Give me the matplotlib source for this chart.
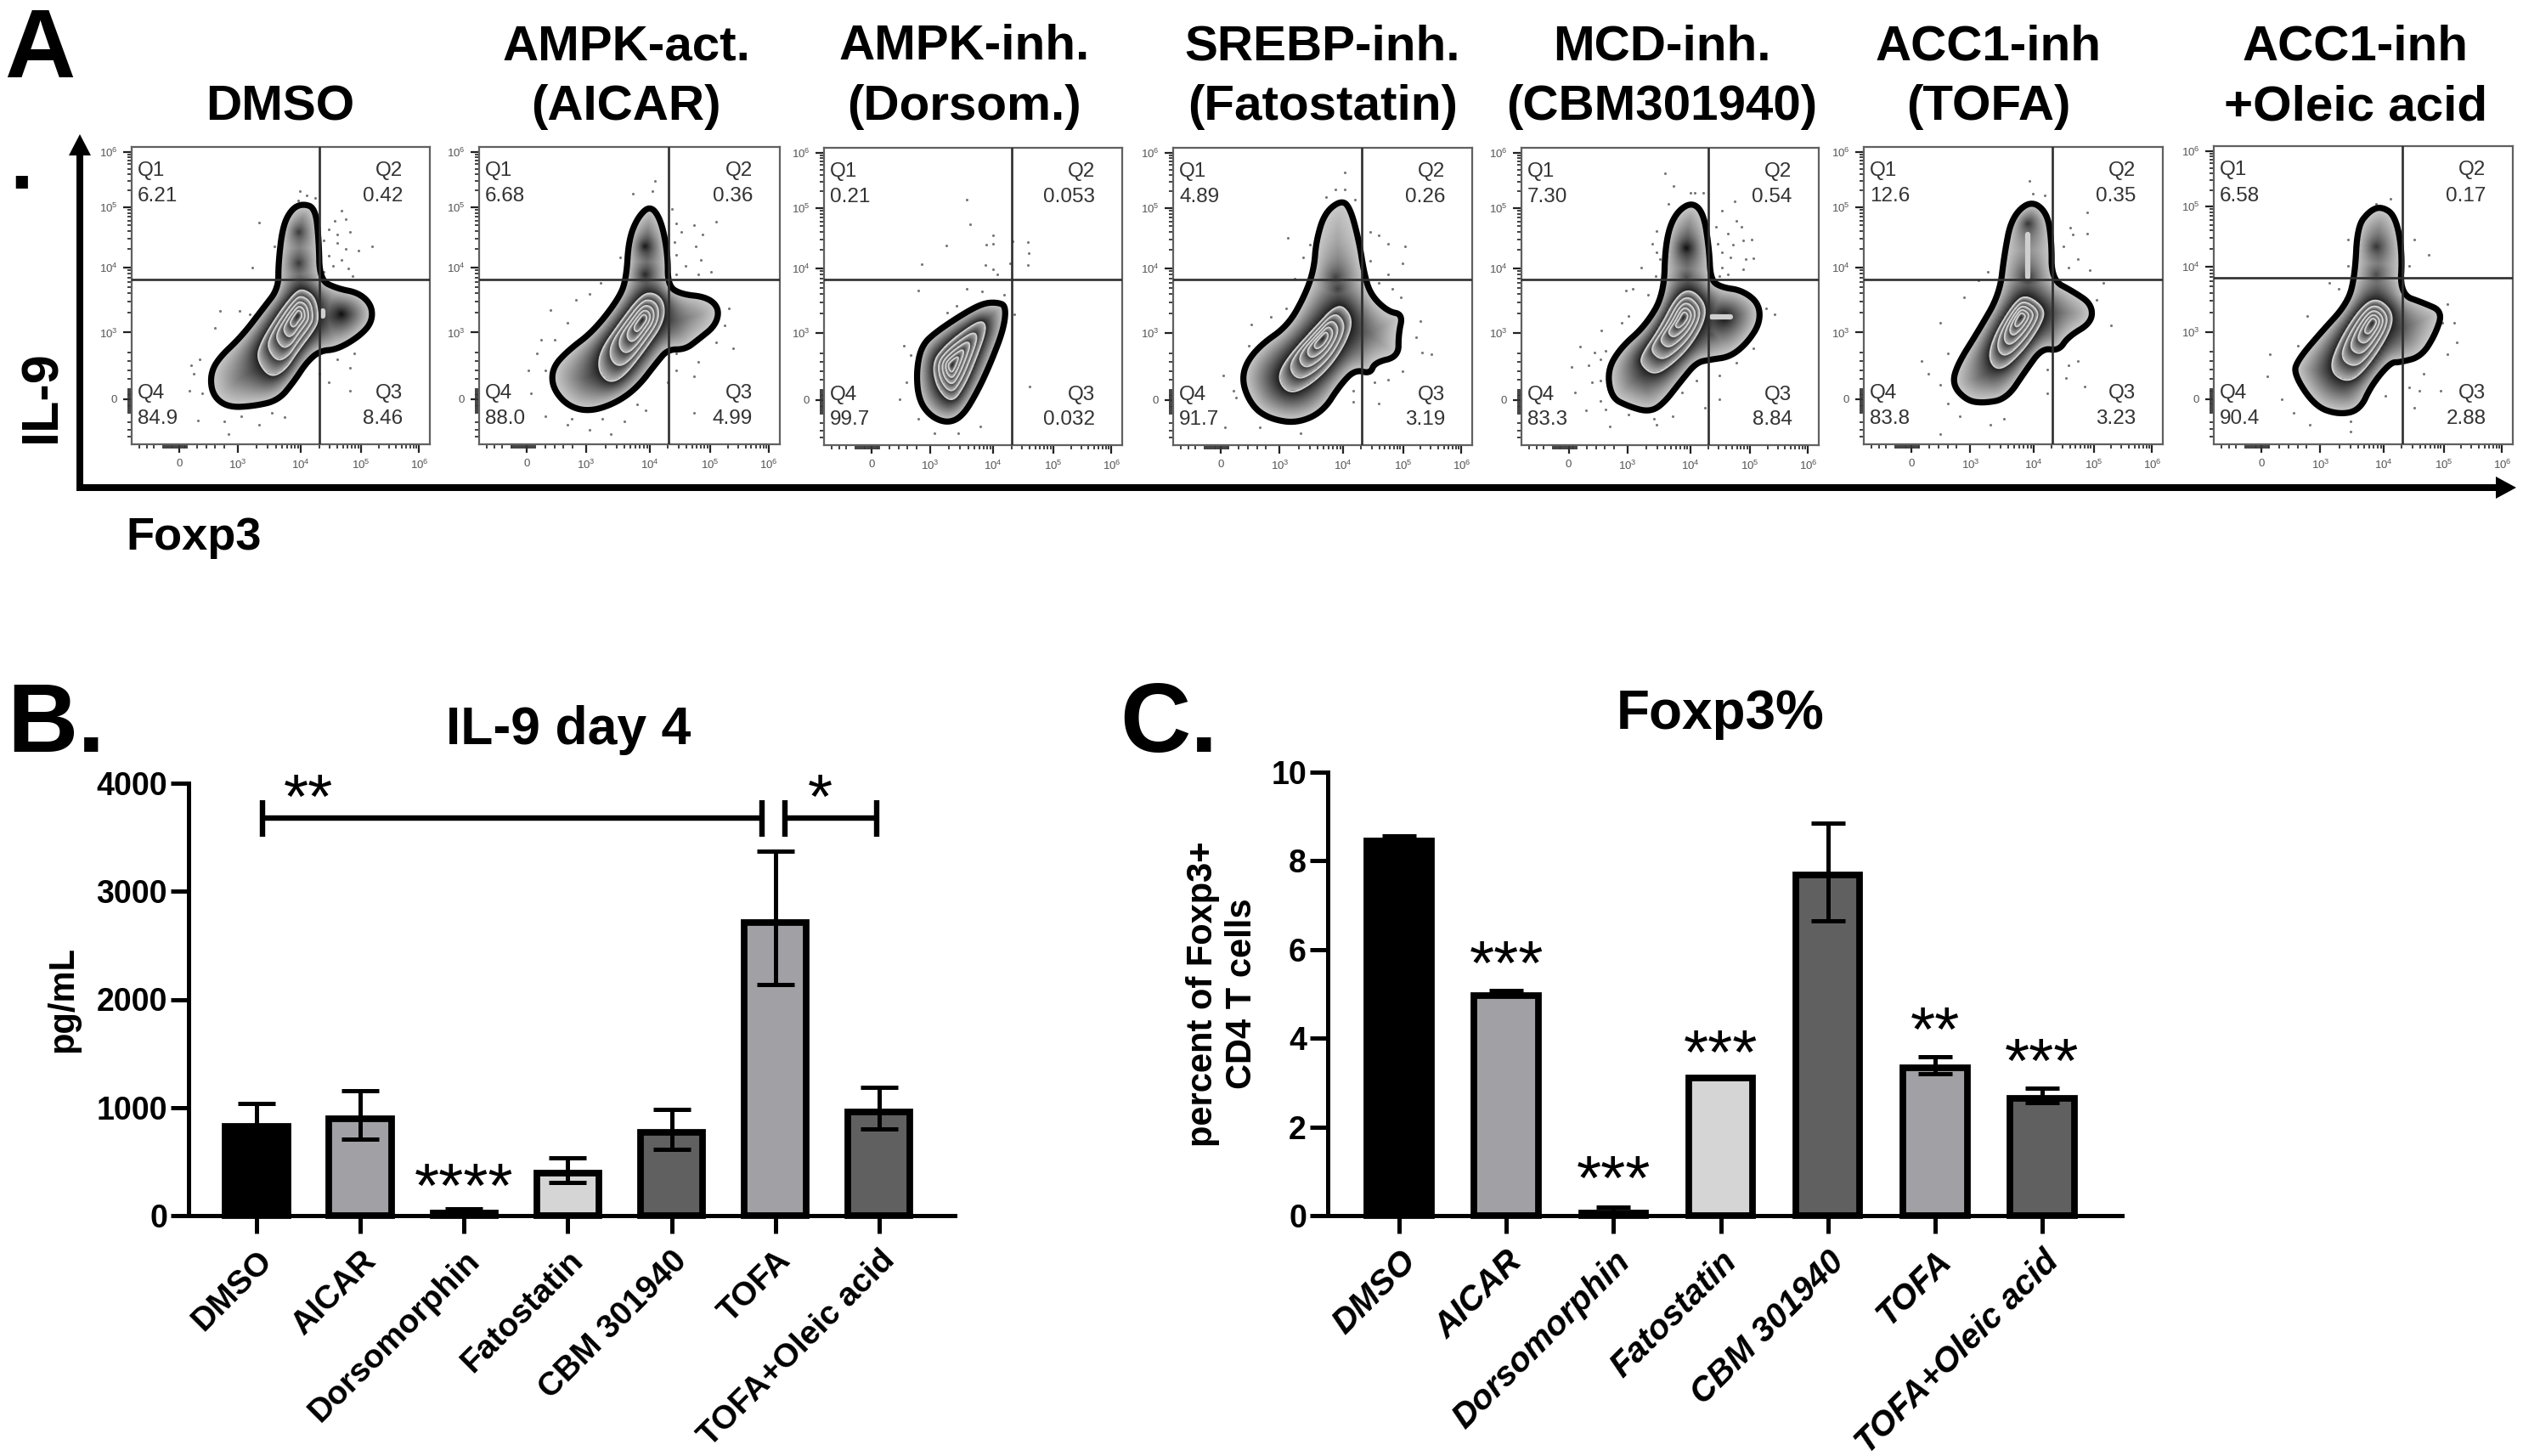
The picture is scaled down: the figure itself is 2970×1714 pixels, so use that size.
#!/usr/bin/env python3
import numpy as np
import matplotlib
matplotlib.use('Agg')
import matplotlib.pyplot as plt
from matplotlib.patches import Polygon, FancyArrow
from matplotlib.transforms import ScaledTranslation

plt.rcParams['font.family'] = ['Liberation Sans', 'DejaVu Sans']
plt.rcParams['mathtext.default'] = 'regular'

W, H = 2970, 1714

# ---- panel B / C data
drugs = ['DMSO', 'AICAR', 'Dorsomorphin', 'Fatostatin', 'CBM 301940', 'TOFA', 'TOFA+Oleic acid']
bar_colors = ['#000000', '#A0A0A5', '#000000', '#D5D5D5', '#606060', '#A0A0A5', '#606060']

il9_vals = [825, 895, 20, 390, 770, 2715, 960]
il9_low = [825, 710, 20, 310, 612, 2136, 805]
il9_high = [1035, 1158, 60, 536, 980, 3370, 1190]

foxp3_vals = [8.45, 4.96, 0.05, 3.11, 7.68, 3.34, 2.64]
foxp3_low = [8.45, 4.96, 0.05, 3.11, 6.64, 3.2, 2.55]
foxp3_high = [8.56, 5.07, 0.19, 3.11, 8.85, 3.59, 2.88]

il9_stars = [('**', 0.5, 3937), ('*', 5.43, 3937), ('****', 2, 338)]
il9_brackets = [(0.06, 4.87, 3678, 3505, 3843), (5.09, 5.98, 3678, 3505, 3843)]
foxp3_stars = [('***', 1, 5.86), ('***', 2, 1.01), ('***', 3, 3.84), ('**', 5, 4.36), ('***', 6, 3.64)]

# ---- panel A data, all read in the crop coordinates of each panel
titles = [['DMSO'], ['AMPK-act.', '(AICAR)'], ['AMPK-inh.', '(Dorsom.)'], ['SREBP-inh.', '(Fatostatin)'],
          ['MCD-inh.', '(CBM301940)'], ['ACC1-inh', '(TOFA)'], ['ACC1-inh', '+Oleic acid']]
title_x = [330, 737, 1135, 1557, 1956, 2341, 2773]

q_values = [['6.21', '0.42', '8.46', '84.9'], ['6.68', '0.36', '4.99', '88.0'], ['0.21', '0.053', '0.032', '99.7'],
            ['4.89', '0.26', '3.19', '91.7'], ['7.30', '0.54', '8.84', '83.3'], ['12.6', '0.35', '3.23', '83.8'],
            ['6.58', '0.17', '2.88', '90.4']]

# panel rectangles on the page: left, right, top, bottom, gate x, gate y
page_boxes = [(155, 506, 173, 523, 376, 329), (564, 918, 173, 523, 787, 329), (970, 1321, 174, 524, 1191, 329),
              (1381, 1733, 174, 524, 1603, 329), (1791, 2141, 174, 524, 2011, 329), (2194, 2546, 173, 523, 2416, 329),
              (2606, 2958, 172, 523, 2828, 327)]
# same rectangles in the crop used for reading
crop_boxes = [(48, 733, 70, 1120), (847, 1537, 70, 1120), (40, 728, 42, 1092), (845, 1535, 42, 1092),
              (122, 1172, 42, 1092), (168, 800, 70, 1120), (907, 1538, 65, 1120)]

outlines = [
    [(440, 270), (470, 285), (478, 400), (480, 540), (520, 570), (570, 585), (600, 630), (600, 690), (570, 740),
     (520, 785), (480, 790), (450, 830), (420, 900), (385, 965), (330, 985), (270, 990), (235, 950), (228, 880),
     (245, 820), (300, 740), (350, 640), (385, 570), (385, 480), (395, 350), (415, 290)],
    [(1240, 275), (1265, 330), (1280, 450), (1280, 560), (1310, 590), (1370, 600), (1398, 640), (1390, 700),
     (1350, 750), (1320, 785), (1280, 785), (1255, 830), (1210, 920), (1160, 975), (1100, 1005), (1050, 985),
     (1015, 920), (1015, 850), (1050, 790), (1110, 720), (1170, 600), (1185, 530), (1190, 400), (1210, 320)],
    [(440, 588), (460, 600), (455, 680), (425, 800), (395, 900), (360, 990), (325, 1015), (285, 990), (258, 930),
     (253, 830), (265, 740), (300, 690), (370, 620), (410, 590)],
    [(1235, 225), (1255, 260), (1275, 380), (1285, 480), (1300, 560), (1340, 620), (1375, 630), (1365, 700),
     (1365, 780), (1310, 800), (1300, 840), (1265, 825), (1230, 880), (1190, 975), (1130, 1015), (1070, 1000),
     (1030, 960), (1005, 880), (1010, 810), (1045, 740), (1110, 670), (1150, 560), (1170, 470), (1175, 370),
     (1195, 270)],
    [(720, 232), (765, 270), (785, 400), (790, 510), (830, 535), (900, 545), (960, 590), (965, 660), (920, 730),
     (860, 780), (790, 790), (740, 800), (690, 860), (620, 950), (570, 975), (500, 955), (440, 925), (425, 830),
     (470, 750), (560, 670), (625, 560), (630, 380), (660, 280)],
    [(520, 258), (555, 300), (565, 400), (565, 540), (610, 580), (650, 625), (650, 690), (600, 740), (580, 790),
     (545, 780), (510, 860), (470, 960), (420, 975), (385, 965), (355, 910), (365, 840), (410, 720), (455, 590),
     (465, 450), (480, 320)],
    [(1260, 278), (1290, 310), (1305, 440), (1300, 590), (1350, 620), (1390, 650), (1375, 730), (1345, 810),
     (1300, 830), (1280, 830), (1240, 910), (1215, 1000), (1170, 1015), (1120, 985), (1075, 870), (1085, 820),
     (1130, 730), (1190, 620), (1205, 520), (1210, 350), (1235, 295)],
]

contours = [
    [(365, 885), (335, 820), (345, 760), (385, 660), (420, 590), (440, 570), (470, 600), (478, 680), (465, 720),
     (430, 790), (400, 860)],
    [(1145, 905), (1120, 860), (1125, 790), (1170, 690), (1220, 590), (1250, 585), (1272, 620), (1270, 690),
     (1230, 780), (1180, 880)],
    [(335, 945), (300, 890), (290, 800), (320, 740), (370, 680), (405, 650), (415, 680), (395, 770), (365, 880)],
    [(1115, 915), (1085, 860), (1105, 790), (1170, 680), (1225, 590), (1255, 630), (1255, 690), (1220, 790),
     (1170, 870)],
    [(590, 845), (545, 810), (545, 775), (610, 680), (670, 565), (720, 540), (770, 590), (770, 650), (720, 740),
     (650, 810)],
    [(455, 865), (430, 820), (445, 730), (490, 610), (515, 595), (550, 640), (545, 690), (505, 790)],
    [(1190, 905), (1150, 860), (1170, 760), (1215, 640), (1250, 600), (1285, 650), (1280, 720), (1230, 850)],
]
peaks = [(430, 665), (1222, 680), (335, 810), (1190, 715), (695, 640), (500, 670), (1242, 690)]

# dark cores of the other lobes: x, y, grey level
lobe_cores = [
    [(432, 370, 0.22), (432, 480, 0.22), (530, 660, 0.05)],
    [(1228, 420, 0.08), (1228, 520, 0.15), (1335, 670, 0.55)],
    [],
    [(1220, 500, 0.25), (1225, 540, 0.25), (1300, 720, 0.7)],
    [(705, 395, 0.05), (705, 500, 0.3), (840, 640, 0.05), (790, 700, 0.3)],
    [(515, 340, 0.2), (515, 530, 0.2), (610, 670, 0.6)],
    [(1250, 420, 0.2), (1250, 520, 0.3), (1330, 700, 0.7)],
]
# light spots inside the dark lobes: x0, y0, x1, y1
light_spots = [
    [(530, 660, 531, 660), (487, 650, 487, 668)],
    [],
    [],
    [],
    [(795, 640, 860, 640), (706, 395, 707, 395)],
    [(515, 380, 515, 530)],
    [],
]

dots = [
    [(435, 225), (450, 240), (470, 250), (430, 260), (530, 295), (515, 330), (540, 325), (500, 360), (520, 380),
     (550, 370), (490, 400), (520, 410), (600, 420), (570, 435), (540, 430), (500, 455), (530, 470), (510, 490),
     (545, 500), (490, 510), (555, 525), (340, 338), (375, 420), (325, 495), (295, 650), (320, 660), (240, 710),
     (250, 650), (205, 820), (185, 840), (190, 870), (180, 930), (210, 940), (200, 1035), (260, 1040), (270, 1085),
     (340, 1050), (400, 1025), (300, 1020), (370, 1010), (560, 800), (520, 820), (550, 850), (480, 870), (550, 930),
     (500, 900)],
    [(1250, 190), (1245, 225), (1200, 235), (1290, 290), (1300, 340), (1340, 345), (1310, 370), (1360, 380),
     (1390, 335), (1295, 405), (1345, 420), (1300, 450), (1355, 470), (1320, 490), (1380, 510), (1350, 520),
     (1300, 520), (1170, 460), (1125, 550), (1100, 590), (1070, 610), (1010, 645), (1050, 690), (1020, 750),
     (990, 750), (980, 800), (1000, 860), (960, 860), (965, 940), (1000, 1020), (1050, 1050), (1100, 1070),
     (1150, 1085), (1180, 1040), (1130, 1030), (1060, 1030), (1210, 980), (1300, 800), (1350, 830), (1300, 860),
     (1280, 900), (1340, 880), (1430, 780), (1410, 700), (1390, 760), (1340, 1010), (1420, 640), (1230, 1000)],
    [(370, 226), (378, 312), (430, 350), (322, 386), (415, 385), (430, 380), (475, 372), (510, 374), (513, 415),
     (510, 455), (265, 452), (412, 455), (430, 470), (440, 490), (470, 450), (258, 546), (370, 540), (405, 550),
     (455, 560), (345, 600), (325, 625), (225, 740), (240, 775), (230, 870), (215, 930), (258, 1000), (295, 1050),
     (350, 1050), (400, 1025), (515, 885), (480, 630)],
    [(1240, 128), (1220, 190), (1240, 190), (1198, 215), (1265, 225), (1110, 360), (1160, 385), (1300, 340),
     (1320, 350), (1340, 380), (1380, 390), (1145, 430), (1300, 440), (1375, 450), (1340, 490), (1125, 505),
     (1320, 520), (1350, 540), (1370, 570), (1105, 610), (1070, 640), (1025, 665), (1020, 740), (960, 845),
     (985, 900), (990, 925), (1045, 1030), (965, 1030), (1140, 1050), (1405, 710), (1415, 655), (1420, 765),
     (1440, 772), (1375, 830), (1340, 860), (1310, 870), (1320, 945), (1260, 900), (1260, 940)],
    [(630, 132), (660, 178), (720, 200), (735, 200), (765, 200), (640, 240), (875, 230), (830, 265), (600, 335),
     (585, 380), (600, 410), (610, 435), (545, 465), (595, 495), (810, 320), (850, 345), (880, 300), (900, 320),
     (935, 365), (815, 380), (870, 385), (905, 370), (830, 410), (860, 430), (915, 435), (940, 432), (830, 465),
     (905, 470), (850, 490), (820, 495), (515, 540), (570, 560), (490, 545), (500, 635), (475, 660), (405, 688),
     (330, 745), (380, 765), (420, 760), (300, 815), (360, 810), (400, 790), (400, 865), (370, 870), (310, 905),
     (400, 935), (350, 970), (420, 965), (500, 985), (590, 1000), (435, 1025), (600, 1020), (655, 990), (690, 905),
     (820, 845), (880, 800), (940, 750), (985, 610), (1015, 630), (770, 960), (820, 930), (740, 865)],
    [(518, 190), (525, 235), (550, 240), (640, 300), (605, 355), (640, 375), (610, 380), (590, 420), (620, 465),
     (600, 495), (645, 505), (430, 510), (410, 540), (380, 600), (330, 690), (345, 800), (290, 825), (305, 870),
     (330, 910), (345, 975), (370, 1020), (435, 1050), (330, 1085), (465, 1030), (660, 610), (690, 700), (600, 840),
     (620, 825), (555, 855), (595, 885), (635, 915), (555, 940), (675, 550)],
    [(1280, 250), (1250, 270), (1330, 395), (1190, 395), (1360, 450), (1320, 490), (1190, 490), (1170, 570),
     (1150, 550), (1105, 665), (1085, 770), (1025, 800), (1020, 880), (1050, 960), (1075, 1010), (1110, 1050),
     (1195, 1040), (1195, 1075), (1270, 950), (1320, 920), (1340, 930), (1350, 870), (1400, 800), (1420, 760),
     (1415, 690), (1400, 625), (1390, 690), (1330, 990), (1385, 930)],
]

x_major = [15.9, 35.6, 56.8, 76.9, 96.4]
y_major = [15.2, 37.6, 59.5, 79.7, 98.3]
major_labels = ['0', '$10^{3}$', '$10^{4}$', '$10^{5}$', '$10^{6}$']
q_x = [2.0, 91.0]
q_y = [92.0, 83.3, 17.0, 8.6]


def page_axes(fig, left, right, top, bottom):
    return fig.add_axes([left / W, 1 - bottom / H, (right - left) / W, (bottom - top) / H])


def to_pct(pts, box):
    pts = np.asarray(pts, dtype=float)
    l, r, t, b = box
    return np.column_stack([(pts[:, 0] - l) / (r - l) * 100, (b - pts[:, 1]) / (b - t) * 100])


def chaikin(pts, n=3):
    for _ in range(n):
        nxt = np.roll(pts, -1, axis=0)
        pts = np.column_stack([0.75 * pts + 0.25 * nxt, 0.25 * pts + 0.75 * nxt]).reshape(-1, 2)
    return pts


def min_dist(gx, gy, pts):
    d = np.full(gx.shape, 1e9)
    for p in pts:
        d = np.minimum(d, np.hypot(gx - p[0], gy - p[1]))
    return d


def flow_panel(fig, idx):
    l, r, t, b, gx_page, gy_page = page_boxes[idx]
    box = crop_boxes[idx]
    ax = page_axes(fig, l, r, t, b)
    ax.set_xlim(0, 100)
    ax.set_ylim(0, 100)

    outline = chaikin(to_pct(outlines[idx], box))
    contour = chaikin(to_pct(contours[idx], box))
    peak = to_pct([peaks[idx]], box)[0]

    # grey shading of the density blob
    xs = np.linspace(0, 100, 240)
    ys = np.linspace(0, 100, 240)
    gx, gy = np.meshgrid(xs, ys)
    d_out = min_dist(gx, gy, outline)
    light = 0.8
    d_con = min_dist(gx, gy, contour)
    grey = light + (0.1 - light) * (d_out / (d_out + d_con + 1e-6)) ** 1.2
    for cx, cy, level in lobe_cores[idx]:
        c = to_pct([(cx, cy)], box)[0]
        d = np.hypot(gx - c[0], gy - c[1])
        g = light + (level - light) * (d_out / (d_out + d + 1e-6)) ** 1.2
        grey = np.minimum(grey, g)

    # nested rings of the main population
    vec = contour - peak
    ang = np.arctan2(vec[:, 1], vec[:, 0])
    order = np.argsort(ang)
    rad = np.hypot(vec[:, 0], vec[:, 1])
    th = np.arctan2(gy - peak[1], gx - peak[0])
    rmax = np.interp(th, ang[order], rad[order], period=2 * np.pi)
    rho = np.hypot(gx - peak[0], gy - peak[1]) / rmax
    rings = [1.0, 0.74, 0.53, 0.35, 0.19]
    for k in range(len(rings) - 1):
        mask = (rho <= rings[k]) & (rho > rings[k + 1])
        s = (rings[k] - rho) / (rings[k] - rings[k + 1])
        grey[mask] = (0.72 + (0.2 - 0.72) * s)[mask]
    mask = rho <= rings[-1]
    grey[mask] = (0.1 + 0.5 * rho / rings[-1])[mask]

    im = ax.imshow(grey, extent=(0, 100, 0, 100), origin='lower', cmap='gray', vmin=0, vmax=1,
                   aspect='auto', interpolation='bilinear', zorder=2)
    patch = Polygon(outline, closed=True, transform=ax.transData, fc='none', ec='none')
    ax.add_patch(patch)
    im.set_clip_path(patch)

    for f in rings:
        ring = peak + (contour - peak) * f
        ax.add_patch(Polygon(ring, closed=True, fc='none', ec='#d2d2d2', lw=1.3, zorder=3))
    for x0, y0, x1, y1 in light_spots[idx]:
        seg = to_pct([(x0, y0), (x1, y1)], box)
        ax.plot(seg[:, 0], seg[:, 1], color='#cfcfcf', lw=4.5, solid_capstyle='round', zorder=3)

    ax.add_patch(Polygon(outline, closed=True, fc='none', ec='black', lw=5.2, joinstyle='round', zorder=4))

    d = to_pct(dots[idx], box)
    ax.scatter(d[:, 0], d[:, 1], s=5, color='#777777', linewidths=0, zorder=1)

    gate_x = (gx_page - l) / (r - l) * 100
    gate_y = (b - gy_page) / (b - t) * 100
    ax.axvline(gate_x, color='#2e2e2e', lw=1.9, zorder=5)
    ax.axhline(gate_y, color='#2e2e2e', lw=1.9, zorder=5)

    for sp in ax.spines.values():
        sp.set_color('#606060')
        sp.set_linewidth(1.6)

    # biexponential looking axes
    for axis, major in [(ax.xaxis, x_major), (ax.yaxis, y_major)]:
        axis.set_ticks(major)
        axis.set_ticklabels(major_labels)
        minor = list(np.linspace(10.6, 18.6, 16)) + [2.5, 5.0, 7.5, 22.0, 25.0, 28.0, 31.0]
        for a, c in zip(major[1:-1], major[2:]):
            minor += list(a + (c - a) * np.log10(np.arange(2, 10)))
        axis.set_ticks([m for m in minor if m < 100], minor=True)
    ax.tick_params(which='major', length=7, width=1.6, color='#222222', labelsize=9.5, labelcolor='#555555', pad=5)
    ax.tick_params(which='minor', length=3.5, width=1.3, color='#333333')

    vals = q_values[idx]
    for j, (name, val) in enumerate(zip(['Q1', 'Q2', 'Q3', 'Q4'], vals)):
        left_side = j in (0, 3)
        xt = q_x[0] if left_side else q_x[1]
        ha = 'left' if left_side else 'right'
        row = 0 if j < 2 else 2
        ax.text(xt, q_y[row], name, ha=ha, va='center', fontsize=17.5, color='#333333', zorder=6)
        ax.text(xt, q_y[row + 1], val, ha=ha, va='center', fontsize=17.5, color='#333333', zorder=6)


def bar_panel(fig, box, xlim, ylim, yticks, vals, low, high, stars, capsize, italic, label_size, label_shift):
    ax = page_axes(fig, *box)
    x = np.arange(len(drugs))
    ax.bar(x, vals, width=0.6, color=bar_colors, edgecolor='black', linewidth=5.6, zorder=2, clip_on=False)
    yerr = [np.array(vals) - np.array(low), np.array(high) - np.array(vals)]
    ax.errorbar(x, vals, yerr=yerr, fmt='none', ecolor='black', elinewidth=3.6, capsize=capsize, capthick=3.6,
                zorder=3, clip_on=False)
    ax.set_xlim(*xlim)
    ax.set_ylim(*ylim)
    ax.set_yticks(yticks)
    ax.set_xticks(x)
    ax.set_xticklabels(drugs, rotation=45, ha='right', va='top', rotation_mode='anchor', fontsize=label_size,
                       fontweight='bold', style='italic' if italic else 'normal')
    shift = ScaledTranslation(label_shift / 72, 0, fig.dpi_scale_trans)
    for lab in ax.get_xticklabels():
        lab.set_transform(lab.get_transform() + shift)
    for lab in ax.get_yticklabels():
        lab.set_fontweight('bold')
        lab.set_fontsize(27)
    ax.tick_params(axis='both', length=15, width=3.6, color='black')
    ax.tick_params(axis='y', pad=3)
    ax.tick_params(axis='x', pad=10)
    ax.spines['top'].set_visible(False)
    ax.spines['right'].set_visible(False)
    ax.spines['left'].set_linewidth(3.6)
    ax.spines['bottom'].set_linewidth(3.6)
    ax.spines['bottom'].set_zorder(5)
    for s, sx, sy in stars:
        ax.annotate(s, (sx, sy), xytext=(0, -24), textcoords='offset points', ha='center', va='baseline',
                    fontsize=54, annotation_clip=False, zorder=6)
    ax.patch.set_alpha(0)
    return ax


fig = plt.figure(figsize=(W / 100, H / 100), dpi=100, facecolor='white')

for i in range(len(page_boxes)):
    flow_panel(fig, i)

il9_ax = bar_panel(fig, (222, 1124, 922, 1431), (-0.655, 6.73), (0, 4000), [0, 1000, 2000, 3000, 4000],
                   il9_vals, il9_low, il9_high, il9_stars, 16, False, 28, -4)
il9_ax.set_ylabel('pg/mL', fontsize=30, fontweight='bold', labelpad=14)
for x0, x1, yb, y0, y1 in il9_brackets:
    il9_ax.plot([x0, x1], [yb, yb], color='black', lw=4.6, clip_on=False, solid_capstyle='butt')
    il9_ax.plot([x0, x0], [y0, y1], color='black', lw=4.6, clip_on=False, solid_capstyle='butt')
    il9_ax.plot([x1, x1], [y0, y1], color='black', lw=4.6, clip_on=False, solid_capstyle='butt')

fox_ax = bar_panel(fig, (1563, 2498, 909, 1431), (-0.667, 6.746), (0, 10), [0, 2, 4, 6, 8, 10],
                   foxp3_vals, foxp3_low, foxp3_high, foxp3_stars, 14.5, True, 29, -6)
fox_ax.set_ylabel('percent of Foxp3+\nCD4 T cells', fontsize=30, fontweight='bold', labelpad=10, linespacing=1.2)

# page level furniture: letters, titles, big arrows
page = fig.add_axes([0, 0, 1, 1], zorder=10)
page.set_xlim(0, W)
page.set_ylim(H, 0)
page.axis('off')
page.patch.set_alpha(0)

page.text(5, 91, 'A', fontsize=83, fontweight='bold', va='baseline')
page.text(25, 222, '.', fontsize=72, fontweight='bold', va='baseline', ha='center')
page.text(8, 885, 'B.', fontsize=83, fontweight='bold', va='baseline')
page.text(1318, 885, 'C.', fontsize=83, fontweight='bold', va='baseline')
page.text(669, 876, 'IL-9 day 4', fontsize=45, fontweight='bold', va='baseline', ha='center')
page.text(2025, 858, 'Foxp3%', fontsize=46, fontweight='bold', va='baseline', ha='center')
page.text(50, 467, 'IL-9', fontsize=44, fontweight='bold', rotation=90, va='center', ha='center')
page.text(228, 647, 'Foxp3', fontsize=39, fontweight='bold', va='baseline', ha='center')

for tx, lines in zip(title_x, titles):
    if len(lines) == 1:
        page.text(tx, 141, lines[0], fontsize=42, fontweight='bold', ha='center', va='baseline')
    else:
        page.text(tx, 70, lines[0], fontsize=42, fontweight='bold', ha='center', va='baseline')
        page.text(tx, 141, lines[1], fontsize=42, fontweight='bold', ha='center', va='baseline')

page.add_patch(FancyArrow(94, 578, 0, -420, width=8, head_width=26, head_length=25, length_includes_head=True,
                          color='black', lw=0))
page.add_patch(FancyArrow(90, 574, 2872, 0, width=8, head_width=26, head_length=24, length_includes_head=True,
                          color='black', lw=0))

fig.savefig('out.png', dpi=100)
